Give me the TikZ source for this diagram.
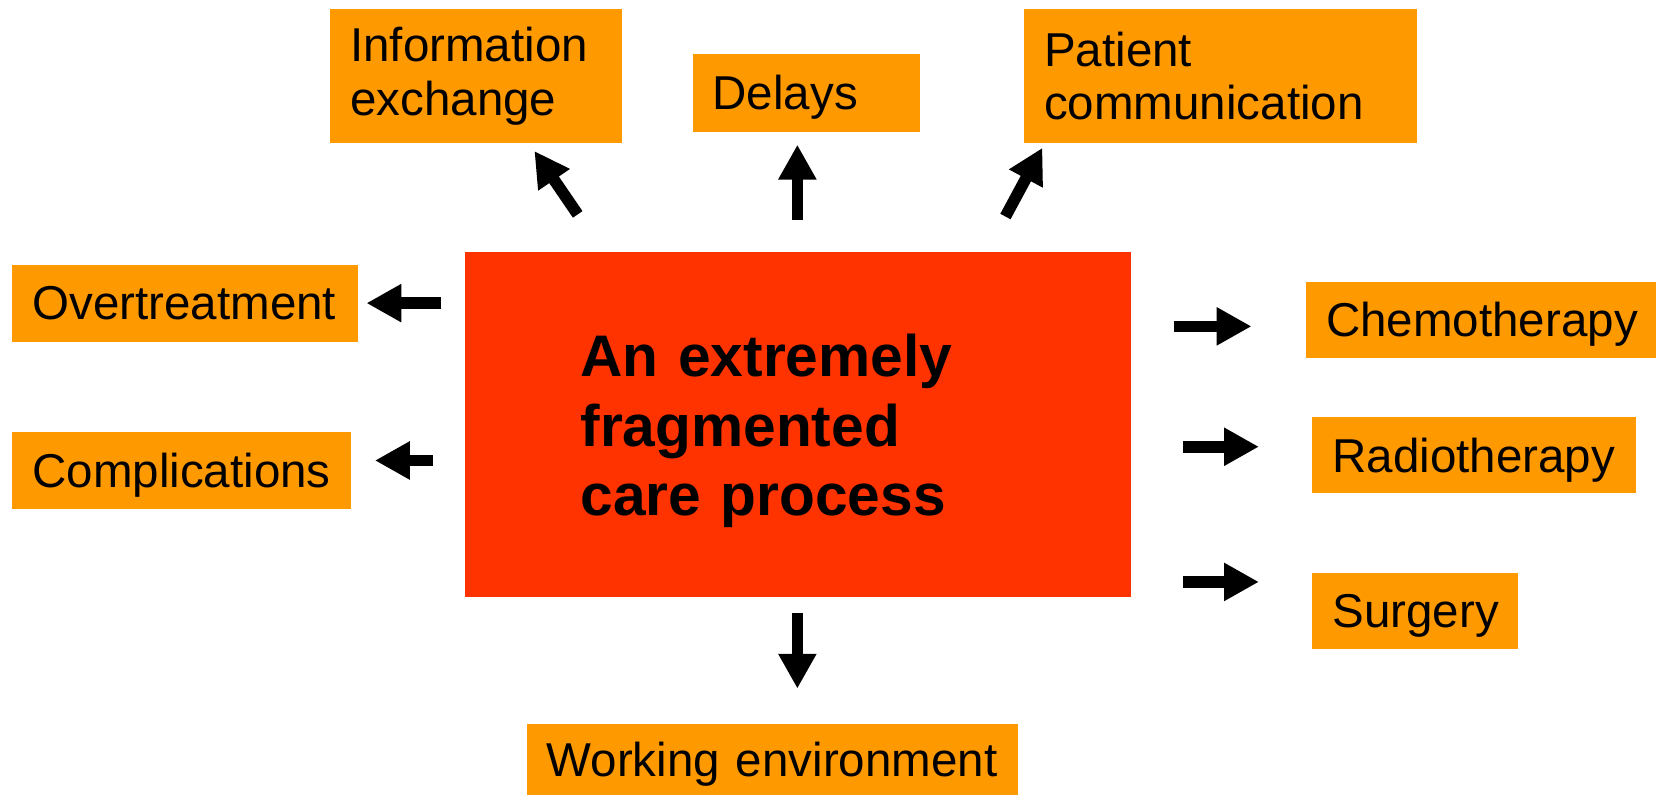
\documentclass[tikz,border=0pt]{standalone}
\usepackage{fontspec}
\setmainfont{Liberation Sans}
\usetikzlibrary{arrows.meta}

\definecolor{boxorange}{HTML}{FF9900}
\definecolor{carered}{HTML}{FF3300}

\tikzset{
  effect/.style={rectangle, fill=boxorange, anchor=north west, align=left,
    inner xsep=1.9mm, inner ysep=0pt,
    font=\fontsize{12.8}{14.4}\selectfont},
  oneline/.style={effect, text depth=0pt},
  push/.style={-{Triangle[length=3.3mm,width=3.4mm]}, line width=1.1mm}
}

\begin{document}
\begin{tikzpicture}[x=0.1mm,y=-0.1mm]
    \useasboundingbox (0,0) rectangle (1568,752);

    % Central process
    \node[rectangle, fill=carered, anchor=north west, align=left,
      inner xsep=10.9mm, inner ysep=0pt, text width=41.2mm, minimum height=32.7mm,
      text depth=37.2pt, font=\fontsize{15.8}{18.6}\selectfont\bfseries]
      (care) at (440,238) {An extremely\\fragmented\\care process};

    % Top row
    \node[effect, text width=23.8mm, minimum height=12.7mm] (info) at (312,8) {Information\\exchange};
    \node[oneline, text width=17.7mm, minimum height=7.4mm] (delays) at (655,50) {Delays};
    \node[effect, text width=33.4mm, minimum height=12.7mm] (patient) at (969,8) {Patient\\communication};

    % Left side
    \node[oneline, text width=28.9mm, minimum height=7.3mm] (over) at (11,250) {Overtreatment};
    \node[oneline, text width=28.3mm, minimum height=7.3mm] (compl) at (11,408) {Complications};

    % Right side
    \node[oneline, text width=29.4mm, minimum height=7.2mm] (chemo) at (1236,266) {Chemotherapy};
    \node[oneline, text width=26.8mm, minimum height=7.2mm] (radio) at (1242,394) {Radiotherapy};
    \node[oneline, text width=15.7mm, minimum height=7.2mm] (surg) at (1242,542) {Surgery};

    % Bottom
    \node[oneline, text width=42.7mm, minimum height=6.7mm] (work) at (498,685) {Working environment};

    % Arrow ends
    \coordinate (info-s) at (547,203);   \coordinate (info-t) at (506,143);
    \coordinate (delays-s) at (755,208); \coordinate (delays-t) at (755,137);
    \coordinate (patient-s) at (952,205); \coordinate (patient-t) at (987,140);
    \coordinate (over-s) at (418,287);   \coordinate (over-t) at (347,287);
    \coordinate (compl-s) at (410,436);  \coordinate (compl-t) at (355,436);
    \coordinate (chemo-s) at (1112,309); \coordinate (chemo-t) at (1185,309);
    \coordinate (radio-s) at (1120,423); \coordinate (radio-t) at (1192,423);
    \coordinate (surg-s) at (1120,551);  \coordinate (surg-t) at (1192,551);
    \coordinate (work-s) at (755,580);   \coordinate (work-t) at (755,652);

    % Arrows
    \draw[push] (info-s) -- (info-t);
    \draw[push] (delays-s) -- (delays-t);
    \draw[push] (patient-s) -- (patient-t);
    \draw[push] (over-s) -- (over-t);
    \draw[push] (compl-s) -- (compl-t);
    \draw[push] (chemo-s) -- (chemo-t);
    \draw[push] (radio-s) -- (radio-t);
    \draw[push] (surg-s) -- (surg-t);
    \draw[push] (work-s) -- (work-t);
\end{tikzpicture}
\end{document}
